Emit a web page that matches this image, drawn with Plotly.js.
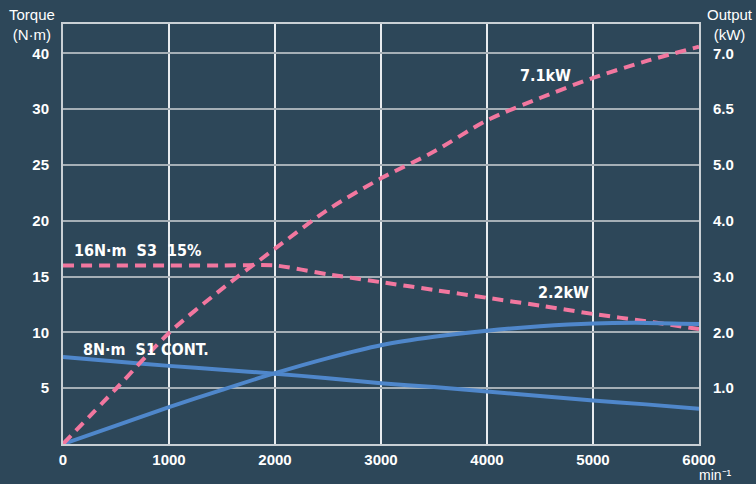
<!DOCTYPE html>
<html>
<head>
<meta charset="utf-8">
<script src="https://cdn.plot.ly/plotly-3.0.1.min.js"></script>
<style>
  html, body { margin: 0; padding: 0; background: #2d4759; }
  #chart { width: 756px; height: 484px; }
</style>
</head>
<body>
<div id="chart"></div>
<script>
// ---- Data ----
const rpm = [0, 500, 1000, 1500, 2000, 2500, 3000, 3500, 4000, 4500, 5000, 5500, 6000];

// Torque, N·m
const torqueS3 = [16, 16, 16, 16, 16, 15.2, 14.5, 13.8, 13.1, 12.4, 11.65, 11.0, 10.3];
const torqueS1 = [7.8, 7.4, 7.0, 6.65, 6.3, 5.9, 5.45, 5.1, 4.7, 4.3, 3.9, 3.55, 3.15];

// Output, kW
const powerS3 = [0, 0.99, 1.99, 2.78, 3.5, 4.2, 4.76, 5.36, 6.2, 6.6, 6.78, 6.93, 7.06];
const powerS1 = [0, 0.33, 0.66, 0.97, 1.27, 1.54, 1.77, 1.92, 2.03, 2.11, 2.16, 2.17, 2.15];

// Axis ticks (the printed chart uses equally spaced gridlines with uneven labels)
const gridPos = [5, 10, 15, 20, 25, 30, 35];
const torqueTickText = ['5', '10', '15', '20', '25', '30', '40'];
const outputTickVals = [0, 1.0, 2.0, 3.0, 4.0, 5.0, 6.5, 7.0];
const outputTickText = ['1.0', '2.0', '3.0', '4.0', '5.0', '6.5', '7.0'];
const xTicks = [0, 1000, 2000, 3000, 4000, 5000, 6000];

// Output scale of the printed chart: kW -> gridline position (piecewise linear)
const outputPos = [0].concat(gridPos);
function kwToPos(v) {
  const t = outputTickVals, p = outputPos;
  for (let i = 1; i < t.length; i++) {
    if (v <= t[i] || i === t.length - 1) {
      return p[i - 1] + (v - t[i - 1]) * (p[i] - p[i - 1]) / (t[i] - t[i - 1]);
    }
  }
}

const PINK = '#f2779f';
const BLUE = '#4f87cb';
const BG = '#2d4759';
const FONT = 'Liberation Sans, Arial, sans-serif';
const COND = 'DejaVu Sans Condensed, Liberation Sans Narrow, Arial Narrow, sans-serif';
const YMAX = 37.63;

const traces = [
  { x: rpm, y: torqueS1, yaxis: 'y', mode: 'lines',
    line: { color: BLUE, width: 4, shape: 'spline', smoothing: 0.6 }, hoverinfo: 'skip' },
  { x: rpm, y: powerS1.map(kwToPos), yaxis: 'y2', mode: 'lines',
    line: { color: BLUE, width: 4, shape: 'spline', smoothing: 0.8 }, hoverinfo: 'skip' },
  { x: rpm, y: torqueS3, yaxis: 'y', mode: 'lines',
    line: { color: PINK, width: 4, dash: '11px,7px', shape: 'spline', smoothing: 0.5 }, hoverinfo: 'skip' },
  { x: rpm, y: powerS3.map(kwToPos), yaxis: 'y2', mode: 'lines',
    line: { color: PINK, width: 4, dash: '11px,7px', shape: 'spline', smoothing: 0.8 }, hoverinfo: 'skip' }
];

const annFont = { family: COND, size: 16, color: '#ffffff', weight: 'bold' };

const layout = {
  width: 756, height: 484,
  paper_bgcolor: BG, plot_bgcolor: BG,
  showlegend: false,
  margin: { l: 63, r: 57, t: 24, b: 40, pad: 0 },
  font: { family: FONT, color: '#ffffff' },
  xaxis: {
    range: [0, 6000], tickvals: xTicks, ticktext: xTicks.map(String),
    showgrid: true, gridcolor: '#e8ecef', gridwidth: 1.2,
    zeroline: false, showline: true, linecolor: '#c9d0d5', linewidth: 2, mirror: true,
    ticks: 'outside', ticklen: 1, tickcolor: 'rgba(0,0,0,0)',
    tickfont: { family: FONT, size: 15, color: '#ffffff', weight: 'bold' },
    fixedrange: true
  },
  yaxis: {
    range: [0, YMAX], tickvals: gridPos, ticktext: torqueTickText,
    showgrid: true, gridcolor: '#a5afb6', gridwidth: 2,
    zeroline: false, showline: true, linecolor: '#c9d0d5', linewidth: 2, mirror: true,
    ticks: 'outside', ticklen: 9, tickcolor: 'rgba(0,0,0,0)',
    tickfont: { family: FONT, size: 15, color: '#ffffff', weight: 'bold' },
    fixedrange: true
  },
  yaxis2: {
    range: [0, YMAX], overlaying: 'y', side: 'right',
    tickvals: gridPos, ticktext: outputTickText,
    showgrid: false, zeroline: false, showline: false,
    ticks: 'outside', ticklen: 10, tickcolor: 'rgba(0,0,0,0)',
    tickfont: { family: FONT, size: 15, color: '#ffffff', weight: 'bold' },
    fixedrange: true
  },
  annotations: [
    { xref: 'paper', yref: 'paper', x: -0.048, y: 1.047, xanchor: 'center', yanchor: 'top',
      text: 'Torque<br>(N·m)', showarrow: false, align: 'center',
      font: { family: FONT, size: 15, color: '#ffffff' } },
    { xref: 'paper', yref: 'paper', x: 1.048, y: 1.047, xanchor: 'center', yanchor: 'top',
      text: 'Output<br>(kW)', showarrow: false, align: 'center',
      font: { family: FONT, size: 15, color: '#ffffff' } },
    { xref: 'paper', yref: 'paper', x: 1.026, y: -0.074, xanchor: 'center', yanchor: 'middle',
      text: 'min⁻¹', showarrow: false,
      font: { family: FONT, size: 14, color: '#ffffff' } },
    { xref: 'x', yref: 'y', x: 85, y: 17.3, xanchor: 'left', yanchor: 'middle',
      text: '16N·m  S3  15%', showarrow: false, font: annFont },
    { xref: 'x', yref: 'y', x: 170, y: 8.45, xanchor: 'left', yanchor: 'middle',
      text: '8N·m  S1 CONT.', showarrow: false, font: annFont },
    { xref: 'x', yref: 'y', x: 4555, y: 33.06, xanchor: 'center', yanchor: 'middle',
      text: '7.1kW', showarrow: false, font: annFont },
    { xref: 'x', yref: 'y', x: 4718, y: 13.6, xanchor: 'center', yanchor: 'middle',
      text: '2.2kW', showarrow: false, font: annFont }
  ]
};

Plotly.newPlot('chart', traces, layout, { staticPlot: true, displayModeBar: false });
</script>
</body>
</html>
